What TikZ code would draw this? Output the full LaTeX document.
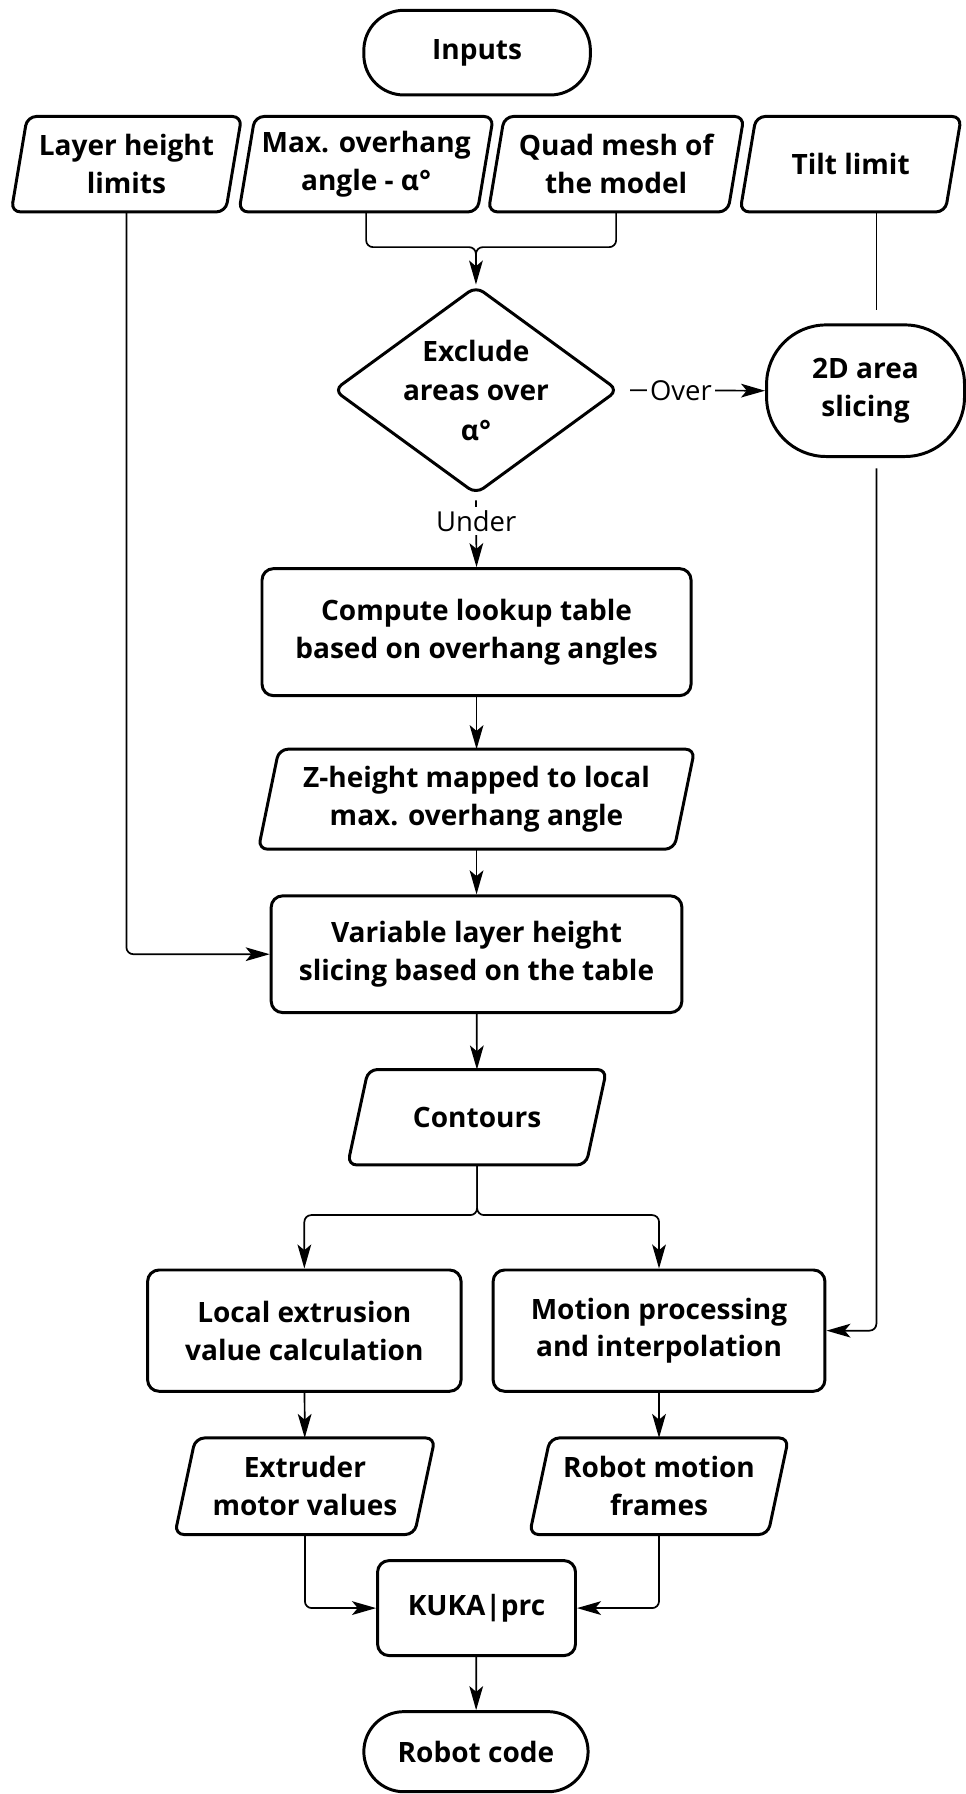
\documentclass[tikz,border=0pt]{standalone}
\usepackage{fontspec}
\setmainfont{Open Sans}
\usetikzlibrary{shapes.geometric,arrows.meta,calc}
\newcommand{\paraout}[2]{\draw[paraline] (#1.south) -- ([xshift=-#2pt]#1.south west) -- ([xshift=#2pt]#1.north west) -- ([xshift=#2pt]#1.north east) -- ([xshift=-#2pt]#1.south east) -- cycle;}
\begin{document}
\begin{tikzpicture}[x=1pt,y=-1pt,
  txt/.style={font=\fontsize{24.5}{33}\selectfont\bfseries, align=center, inner sep=0pt},
  box/.style={txt, draw, line width=2.6pt, rounded corners=10pt},
  term/.style={box, rounded corners=35pt},
  dec/.style={txt, draw, line width=2.6pt, diamond, aspect=1.37, rounded corners=8pt, font=\fontsize{24.5}{34.5}\selectfont\bfseries},
  paraline/.style={draw, line width=2.6pt, rounded corners=8pt},
  conn/.style={line width=1.5pt},
  arr/.style={conn, -{Stealth[length=21pt,width=12pt,inset=5pt]}},
  lbl/.style={font=\fontsize{24}{28}\selectfont, fill=white, inner sep=3pt}
]
\useasboundingbox[fill=white] (0,0) rectangle (844,1568);

% terminals
\node[term, minimum width=198pt, minimum height=74pt] (inputs) at (417,46) {Inputs};
\node[term, minimum width=196pt, minimum height=70pt] (code) at (416,1531) {Robot code};
\node[box, rounded corners=52pt, minimum width=173pt, minimum height=115pt] (area) at (756.5,341.5) {2D area\\slicing};

% input parallelograms
\node[txt, minimum width=187pt, minimum height=83pt] (layer) at (110.5,143.5) {Layer height\\limits};
\node[txt, minimum width=208pt, minimum height=83pt] (max) at (320,143.5) {Max. overhang\\angle - α°};
\node[txt, minimum width=209pt, minimum height=83pt] (quad) at (538.5,143.5) {Quad mesh of\\the model};
\node[txt, minimum width=179pt, minimum height=83pt] (tilt) at (743.5,143.5) {Tilt limit};
\paraout{layer}{7}
\paraout{max}{7}
\paraout{quad}{7}
\paraout{tilt}{7}

% decision
\node[dec, minimum width=249pt, minimum height=182pt] (dia) at (416,341) {Exclude\\areas over\\α°};

% process boxes
\node[box, minimum width=375pt, minimum height=111pt] (comp) at (416.5,552.5) {Compute lookup table\\based on overhang angles};
\node[txt, minimum width=363pt, minimum height=87pt] (zh) at (416.5,698.5) {Z-height mapped to local\\max. overhang angle};
\paraout{zh}{9}
\node[box, minimum width=359pt, minimum height=102pt] (var) at (416.5,834) {Variable layer height\\slicing based on the table};
\node[txt, minimum width=208pt, minimum height=83pt] (cont) at (417,976.5) {Contours};
\paraout{cont}{9}
\node[box, minimum width=274pt, minimum height=106pt] (local) at (266,1163) {Local extrusion\\value calculation};
\node[box, minimum width=290pt, minimum height=106pt] (motion) at (576,1163) {Motion processing\\and interpolation};
\node[txt, minimum width=209pt, minimum height=84pt] (extr) at (266.5,1299) {Extruder\\motor values};
\paraout{extr}{9}
\node[txt, minimum width=208pt, minimum height=84pt] (frames) at (576,1299) {Robot motion\\frames};
\paraout{frames}{9}
\node[box, minimum width=173pt, minimum height=83pt] (kuka) at (416.5,1405.5) {KUKA|prc};

% helper coordinates
\coordinate (join) at (416,216);
\coordinate (tx) at (766,0);
\coordinate (sp) at (417,1062);

% connectors
\draw[conn, rounded corners=6pt] (max.south) |- (join) -- ++(0,12);
\draw[arr, rounded corners=6pt] (quad.south) |- (join) -- (dia.north);
\draw[arr, shorten <=9pt] (dia.east) -- node[lbl, pos=0.42] {Over} (area.west);
\draw[conn, shorten >=12pt] (tilt.south -| tx) -- (area.north -| tx);
\draw[arr, shorten <=4pt] (dia.south) -- node[lbl, pos=0.36] {Under} (comp.north);
\draw[arr, shorten <=9pt, rounded corners=6pt] (area.south -| tx) |- (motion.east);
\draw[arr] (comp) -- (zh);
\draw[arr] (zh.south) -- (var.north);
\draw[arr, rounded corners=6pt] (layer.south) |- (var.west);
\draw[arr] (var) -- (cont);
\draw[arr, rounded corners=6pt] (cont.south) -- (sp) -| (local.north);
\draw[arr, rounded corners=6pt] (cont.south) -- (sp) -| (motion.north);
\draw[arr] (local) -- (extr);
\draw[arr] (motion) -- (frames);
\draw[arr, rounded corners=6pt] (extr.south) |- (kuka.west);
\draw[arr, rounded corners=6pt] (frames.south) |- (kuka.east);
\draw[arr] (kuka) -- (code);
\end{tikzpicture}
\end{document}
